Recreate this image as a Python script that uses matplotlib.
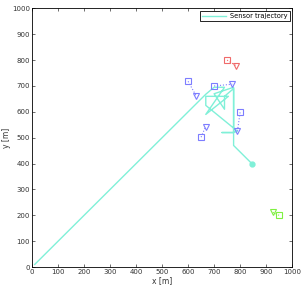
import numpy as np
import matplotlib
matplotlib.use("Agg")
import matplotlib.pyplot as plt

# sensor trajectory (x, y) in metres
traj_x = [10, 668, 700, 740, 668, 755, 668, 668, 790, 775, 730, 775, 775, 700, 740, 740, 775, 775, 845]
traj_y = [10, 668, 695, 695, 590, 660, 660, 625, 525, 520, 520, 520, 695, 670, 610, 660, 690, 470, 400]
end_pt = (845, 400)

# target pairs: square (estimate) -> triangle (true)
red_sq = [(750, 800)]
red_tri = [(785, 778)]
blue_sq = [(600, 718), (700, 700), (800, 598), (650, 502)]
blue_tri = [(632, 660), (770, 707), (790, 527), (667, 542)]
green_sq = [(950, 200)]
green_tri = [(925, 212)]

plt.rcParams['font.family'] = ['DejaVu Sans']
fig = plt.figure(figsize=(3.03, 2.89), dpi=100)
ax = fig.add_axes([0.106, 0.076, 0.858, 0.895])

cyan = '#80f0d8'
ax.plot(traj_x, traj_y, color=cyan, lw=1.0, label='Sensor trajectory')
ax.plot(*end_pt, marker='o', ms=3.5, color=cyan, mec=cyan)

def pairs(sq, tri, col):
    for (sx, sy), (tx, ty) in zip(sq, tri):
        ax.plot([sx, tx], [sy, ty], ':', color=col, lw=0.8)
        ax.plot(sx, sy, 's', ms=4, mfc='none', mec=col, mew=0.8)
        ax.plot(tx, ty, 'v', ms=4.5, mfc='none', mec=col, mew=0.8)

pairs(red_sq, red_tri, '#f06a6a')
pairs(blue_sq, blue_tri, '#7d7dff')
pairs(green_sq, green_tri, '#7ff040')

ax.set_xlim(0, 1000)
ax.set_ylim(0, 1000)
ax.set_xticks(np.arange(0, 1001, 100))
ax.set_yticks(np.arange(0, 1001, 100))
ax.tick_params(direction='in', length=2.5, width=0.5, labelsize=5, colors='#333333',
               top=True, right=True, pad=1.5)
for s in ax.spines.values():
    s.set_linewidth(0.6)
ax.set_xlabel('x [m]', fontsize=5.5, labelpad=0.5, color='#333333')
ax.set_ylabel('y [m]', fontsize=5.5, labelpad=1, color='#333333')

leg = ax.legend(loc='upper right', fontsize=4.8, fancybox=False, framealpha=1,
                edgecolor='black', borderpad=0.35, handlelength=3.6,
                handletextpad=0.6, borderaxespad=0.35)
leg.get_frame().set_linewidth(0.6)

fig.savefig('out.png', dpi=100)
